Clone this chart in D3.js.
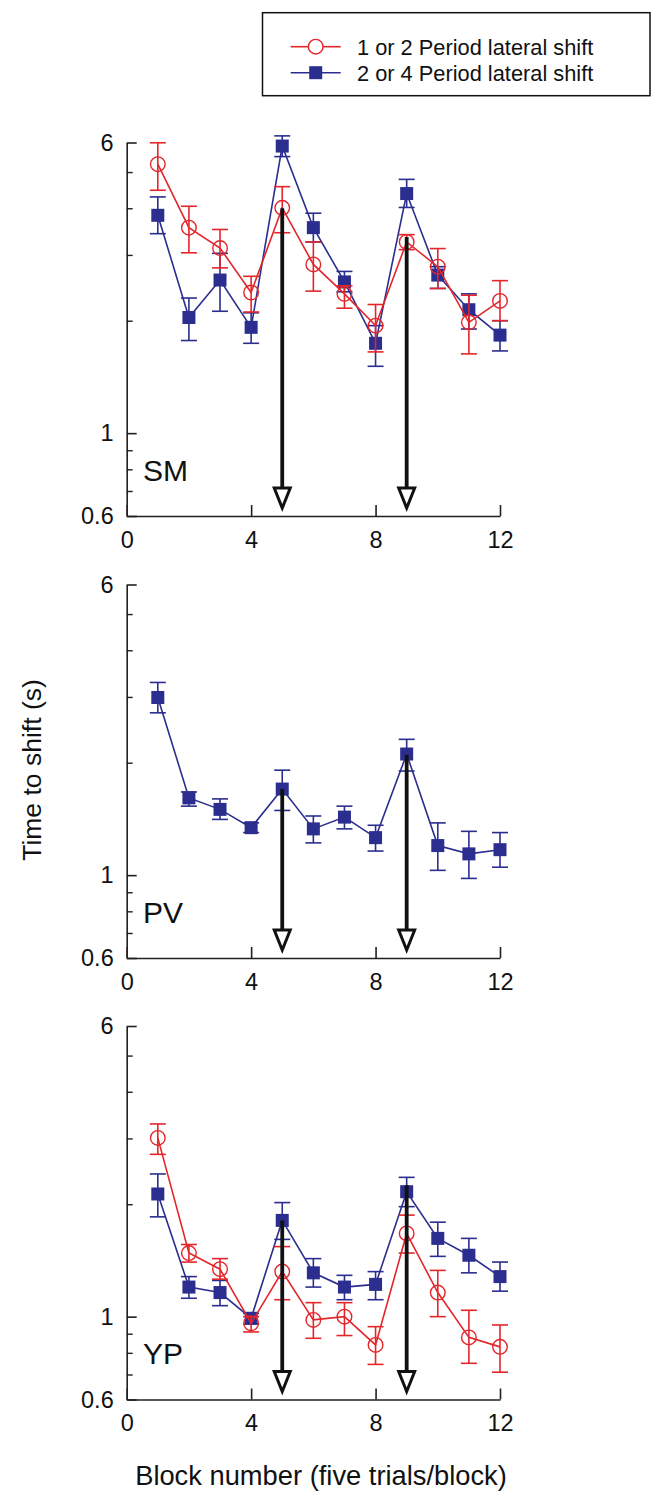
<!DOCTYPE html>
<html>
<head>
<meta charset="utf-8">
<script src="https://cdn.jsdelivr.net/npm/d3@7"></script>
<style>
  html, body { margin: 0; padding: 0; background: #fff; }
  svg { display: block; font-family: "Liberation Sans", Arial, Helvetica, sans-serif; }
</style>
</head>
<body>
<svg id="chart" width="660" height="1502"></svg>
<script>
// ---------- data ----------
const blocks = [1, 2, 3, 4, 5, 6, 7, 8, 9, 10, 11, 12];
const panelNames = ["SM", "PV", "YP"];
const seriesNames = ["1 or 2 Period lateral shift", "2 or 4 Period lateral shift"];
const yMajorTicks = [0.6, 1, 6];
const yMinorTicks = [0.7, 0.8, 0.9, 2, 3, 4, 5];
const xTicks = [0, 4, 8, 12];
const arrowBlocks = [5, 9];

// SM
const smShort   = [5.25, 3.55, 3.13, 2.38, 4.01, 2.83, 2.36, 1.94, 3.25, 2.79, 1.98, 2.26];
const smShortLo = [4.47, 3.04, 2.77, 2.11, 3.44, 2.40, 2.16, 1.65, 3.10, 2.44, 1.63, 2.00];
const smShortHi = [5.99, 4.05, 3.51, 2.63, 4.57, 3.25, 2.48, 2.21, 3.40, 3.12, 2.34, 2.56];
const smLong    = [3.83, 2.04, 2.57, 1.92, 5.87, 3.55, 2.54, 1.74, 4.38, 2.65, 2.14, 1.83];
const smLongLo  = [3.42, 1.77, 2.12, 1.74, 5.50, 3.25, 2.39, 1.51, 4.02, 2.44, 1.90, 1.66];
const smLongHi  = [4.29, 2.30, 3.03, 2.10, 6.25, 3.88, 2.71, 1.94, 4.78, 2.79, 2.36, 2.00];
const smArrowTop = [4.0, 3.35];

// PV
const pvLong    = [2.99, 1.61, 1.50, 1.34, 1.70, 1.33, 1.43, 1.26, 2.11, 1.20, 1.14, 1.17];
const pvLongLo  = [2.72, 1.53, 1.41, 1.30, 1.49, 1.22, 1.33, 1.16, 1.90, 1.03, 0.98, 1.05];
const pvLongHi  = [3.28, 1.67, 1.60, 1.38, 1.91, 1.44, 1.53, 1.36, 2.31, 1.38, 1.31, 1.30];
const pvArrowTop = [1.70, 2.10];

// YP
const ypShort   = [3.01, 1.48, 1.34, 0.96, 1.32, 0.98, 1.00, 0.84, 1.67, 1.16, 0.88, 0.83];
const ypShortLo = [2.72, 1.40, 1.26, 0.91, 1.11, 0.875, 0.89, 0.745, 1.48, 1.00, 0.75, 0.71];
const ypShortHi = [3.28, 1.56, 1.43, 1.00, 1.54, 1.09, 1.09, 0.94, 1.87, 1.33, 1.04, 0.95];
const ypLong    = [2.13, 1.20, 1.16, 0.99, 1.81, 1.31, 1.20, 1.22, 2.16, 1.62, 1.46, 1.28];
const ypLongLo  = [1.85, 1.12, 1.07, 0.956, 1.61, 1.20, 1.11, 1.11, 1.97, 1.45, 1.31, 1.17];
const ypLongHi  = [2.41, 1.28, 1.25, 1.02, 2.02, 1.43, 1.29, 1.32, 2.36, 1.79, 1.62, 1.40];
const ypArrowTop = [1.81, 2.25];

const arrowBottom = 0.63;

// ---------- styles ----------
const RED = "#e4262b";
const BLUE = "#2b2e8e";
const AXIS = "#231f20";
const TICK_FONT = 23.5;

const panels = [
  { name: panelNames[0], top: 142.5, short: [smShort, smShortLo, smShortHi], long: [smLong, smLongLo, smLongHi], arrows: smArrowTop },
  { name: panelNames[1], top: 584.5, short: null, long: [pvLong, pvLongLo, pvLongHi], arrows: pvArrowTop },
  { name: panelNames[2], top: 1026, short: [ypShort, ypShortLo, ypShortHi], long: [ypLong, ypLongLo, ypLongHi], arrows: ypArrowTop }
];
const plotH = 373.5;
const x = d3.scaleLinear().domain([0, 12]).range([126.7, 500]);

const svg = d3.select("#chart");

panels.forEach(p => {
  const y = d3.scaleLog().domain([0.6, 6]).range([p.top + plotH, p.top]);
  const g = svg.append("g");

  // y axis major
  const yAx = g.append("g").attr("transform", `translate(${x(0)},0)`)
    .call(d3.axisLeft(y).tickValues(yMajorTicks).tickSizeInner(-10).tickSizeOuter(0)
      .tickPadding(13).tickFormat(d => d === 0.6 ? "0.6" : d3.format("d")(d)));
  yAx.select(".domain").attr("stroke", AXIS).attr("stroke-width", 1.6);
  yAx.selectAll(".tick line").attr("stroke", AXIS).attr("stroke-width", 1.6);
  yAx.selectAll(".tick text").attr("font-size", TICK_FONT).attr("fill", "#111")
    .attr("font-family", "Liberation Sans, Arial, sans-serif");
  // y axis minor
  const yMin = g.append("g").attr("transform", `translate(${x(0)},0)`)
    .call(d3.axisLeft(y).tickValues(yMinorTicks).tickSizeInner(-6).tickSizeOuter(0).tickFormat(""));
  yMin.select(".domain").remove();
  yMin.selectAll(".tick line").attr("stroke", AXIS).attr("stroke-width", 1.4);

  // x axis
  const xAx = g.append("g").attr("transform", `translate(0,${y(0.6)})`)
    .call(d3.axisBottom(x).tickValues(xTicks).tickSizeInner(-11).tickSizeOuter(0).tickPadding(15));
  xAx.select(".domain").attr("stroke", AXIS).attr("stroke-width", 1.6);
  xAx.selectAll(".tick line").attr("stroke", AXIS).attr("stroke-width", 1.6);
  xAx.selectAll(".tick text").attr("font-size", TICK_FONT).attr("fill", "#111")
    .attr("font-family", "Liberation Sans, Arial, sans-serif");

  // panel label
  g.append("text").attr("x", x(0.52)).attr("y", y(0.745))
    .attr("font-size", 30).attr("fill", "#111").text(p.name);

  const line = d3.line().x(d => x(d.b)).y(d => y(d.v));

  function drawSeries(s, color, marker) {
    const data = blocks.map((b, i) => ({ b, v: s[0][i], lo: s[1][i], hi: s[2][i] }));
    const sg = g.append("g");
    // error bars
    const eb = sg.selectAll(".eb").data(data).enter().append("g");
    eb.append("line").attr("x1", d => x(d.b)).attr("x2", d => x(d.b))
      .attr("y1", d => y(d.lo)).attr("y2", d => y(d.hi))
      .attr("stroke", color).attr("stroke-width", 1.6);
    ["lo", "hi"].forEach(k => {
      eb.append("line").attr("x1", d => x(d.b) - 8).attr("x2", d => x(d.b) + 8)
        .attr("y1", d => y(d[k])).attr("y2", d => y(d[k]))
        .attr("stroke", color).attr("stroke-width", 1.6);
    });
    sg.append("path").datum(data).attr("d", line)
      .attr("fill", "none").attr("stroke", color).attr("stroke-width", 1.6);
    if (marker === "square") {
      sg.selectAll(".m").data(data).enter().append("rect")
        .attr("x", d => x(d.b) - 6.5).attr("y", d => y(d.v) - 6.5)
        .attr("width", 13).attr("height", 13).attr("fill", color);
    } else {
      sg.selectAll(".m").data(data).enter().append("circle")
        .attr("cx", d => x(d.b)).attr("cy", d => y(d.v)).attr("r", 7.3)
        .attr("fill", "none").attr("stroke", color).attr("stroke-width", 1.4);
    }
  }
  drawSeries(p.long, BLUE, "square");
  if (p.short) drawSeries(p.short, RED, "circle");

  // arrows
  arrowBlocks.forEach((b, i) => {
    const xb = x(b);
    const yTop = y(p.arrows[i]);
    const yTip = y(arrowBottom);
    const triH = 20, triW = 8;
    g.append("line").attr("x1", xb).attr("x2", xb).attr("y1", yTop).attr("y2", yTip - triH)
      .attr("stroke", "#111").attr("stroke-width", 3.8);
    g.append("path")
      .attr("d", `M${xb - triW},${yTip - triH} L${xb + triW},${yTip - triH} L${xb},${yTip} Z`)
      .attr("fill", "#fff").attr("stroke", "#111").attr("stroke-width", 3).attr("stroke-linejoin", "miter");
  });
});

// axis titles
svg.append("text").attr("transform", "translate(41,770) rotate(-90)")
  .attr("text-anchor", "middle").attr("font-size", 26.5).attr("fill", "#111")
  .text("Time to shift (s)");
svg.append("text").attr("x", 321).attr("y", 1485)
  .attr("text-anchor", "middle").attr("font-size", 27.3).attr("fill", "#111")
  .text("Block number (five trials/block)");

// legend
const lg = svg.append("g");
lg.append("rect").attr("x", 262.5).attr("y", 12.7).attr("width", 387.5).attr("height", 83)
  .attr("fill", "#fff").attr("stroke", "#111").attr("stroke-width", 1.5);
const legendRows = [
  { label: seriesNames[0], color: RED, marker: "circle", y: 46.7 },
  { label: seriesNames[1], color: BLUE, marker: "square", y: 72.7 }
];
legendRows.forEach(r => {
  const cx = 315.7;
  if (r.marker === "circle") {
    lg.append("line").attr("x1", 290.7).attr("x2", cx - 7.3).attr("y1", r.y).attr("y2", r.y)
      .attr("stroke", r.color).attr("stroke-width", 1.6);
    lg.append("line").attr("x1", cx + 7.3).attr("x2", 340.7).attr("y1", r.y).attr("y2", r.y)
      .attr("stroke", r.color).attr("stroke-width", 1.6);
    lg.append("circle").attr("cx", cx).attr("cy", r.y).attr("r", 7.3)
      .attr("fill", "none").attr("stroke", r.color).attr("stroke-width", 1.4);
  } else {
    lg.append("line").attr("x1", 290.7).attr("x2", 340.7).attr("y1", r.y).attr("y2", r.y)
      .attr("stroke", r.color).attr("stroke-width", 1.6);
    lg.append("rect").attr("x", cx - 6.5).attr("y", r.y - 6.5).attr("width", 13).attr("height", 13)
      .attr("fill", r.color);
  }
  lg.append("text").attr("x", 357).attr("y", r.y).attr("dy", "0.36em")
    .attr("font-size", 21.8).attr("fill", "#111").text(r.label);
});
</script>
</body>
</html>
